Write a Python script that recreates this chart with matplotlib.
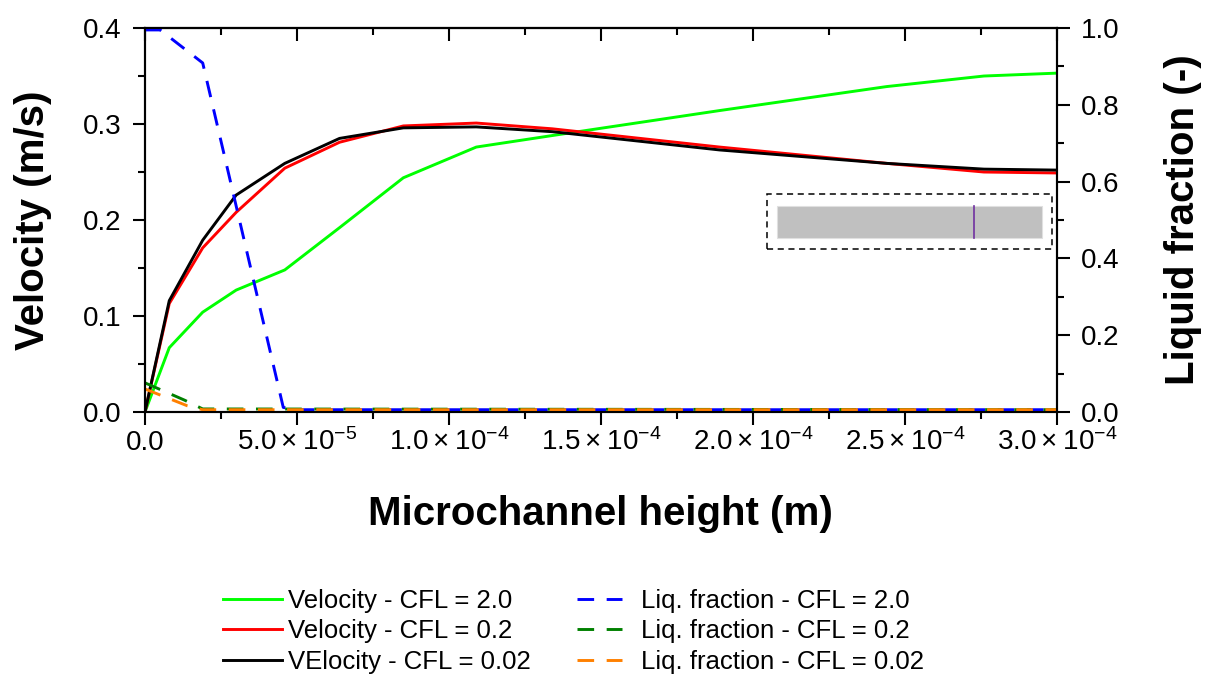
import numpy as np
import matplotlib
matplotlib.use("Agg")
import matplotlib.pyplot as plt
from matplotlib.patches import Rectangle

plt.rcParams["font.family"] = ["Liberation Sans", "DejaVu Sans"]
plt.rcParams["mathtext.fontset"] = "custom"
plt.rcParams["mathtext.rm"] = "Liberation Sans"
plt.rcParams["mathtext.default"] = "regular"

# mesh positions across the microchannel height (m)
height = [0, 0.08e-4, 0.19e-4, 0.30e-4, 0.46e-4, 0.64e-4, 0.85e-4,
          1.09e-4, 1.34e-4, 1.89e-4, 2.44e-4, 2.76e-4, 3.00e-4]

# velocity profiles (m/s)
vel_cfl_2 = [0, 0.067, 0.104, 0.127, 0.148, 0.192, 0.244,
             0.276, 0.288, 0.314, 0.339, 0.350, 0.353]
vel_cfl_02 = [0, 0.113, 0.171, 0.208, 0.254, 0.281, 0.298,
              0.301, 0.295, 0.276, 0.259, 0.250, 0.249]
vel_cfl_002 = [0, 0.116, 0.179, 0.226, 0.259, 0.285, 0.296,
               0.297, 0.292, 0.273, 0.259, 0.253, 0.252]

# liquid fraction profiles (-)
lf_cfl_2_x = [0, 0.05e-4, 0.19e-4, 0.455e-4, 0.50e-4, 3.00e-4]
lf_cfl_2 = [0.995, 0.995, 0.909, 0.012, 0.006, 0.006]
lf_cfl_02_x = [0, 0.13e-4, 0.19e-4, 3.00e-4]
lf_cfl_02 = [0.076, 0.031, 0.008, 0.006]
lf_cfl_002_x = [0, 0.14e-4, 0.19e-4, 3.00e-4]
lf_cfl_002 = [0.060, 0.016, 0.006, 0.006]

xticks = [0, 0.5e-4, 1.0e-4, 1.5e-4, 2.0e-4, 2.5e-4, 3.0e-4]
xticklabels = ["0.0", r"$5.0\times10^{-5}$", r"$1.0\times10^{-4}$",
               r"$1.5\times10^{-4}$", r"$2.0\times10^{-4}$",
               r"$2.5\times10^{-4}$", r"$3.0\times10^{-4}$"]
yticks = [0.0, 0.1, 0.2, 0.3, 0.4]
yticklabels = ["0.0", "0.1", "0.2", "0.3", "0.4"]
y2ticks = [0.0, 0.2, 0.4, 0.6, 0.8, 1.0]
y2ticklabels = ["0.0", "0.2", "0.4", "0.6", "0.8", "1.0"]

LW = 2.1
DASH = (5.7, 4.3)

fig = plt.figure(figsize=(12.14, 6.75), dpi=100)
ax = fig.add_axes([0.1194, 0.3896, 0.7512, 0.5689])

v1, = ax.plot(height, vel_cfl_2, color="#00ff00", lw=LW, label="Velocity - CFL = 2.0")
v2, = ax.plot(height, vel_cfl_02, color="#ff0000", lw=LW, label="Velocity - CFL = 0.2")
v3, = ax.plot(height, vel_cfl_002, color="black", lw=LW, label="VElocity - CFL = 0.02")

ax.set_xlim(0, 3e-4)
ax.set_ylim(0, 0.4)
ax.set_xticks(xticks)
ax.set_xticklabels(xticklabels)
ax.set_xticks(np.arange(0.25e-4, 3e-4, 0.5e-4), minor=True)
ax.set_yticks(yticks)
ax.set_yticklabels(yticklabels)
ax.set_yticks(np.arange(0.05, 0.4, 0.1), minor=True)
ax.tick_params(which="major", length=9, width=1.5, labelsize=20, direction="out")
ax.tick_params(which="minor", length=5, width=1.5, direction="out")
ax.tick_params(axis="y", pad=8)
ax.tick_params(axis="x", pad=18)
for lbl in ax.get_xticklabels():
    lbl.set_verticalalignment("baseline")

top = ax.secondary_xaxis("top")
top.set_xticks(xticks)
top.set_xticks(np.arange(0.25e-4, 3e-4, 0.5e-4), minor=True)
top.tick_params(which="major", length=9, width=1.5, direction="in", labeltop=False)
top.tick_params(which="minor", length=5, width=1.5, direction="in")
top.spines["top"].set_linewidth(1.5)

ax.set_xlabel("Microchannel height (m)", fontsize=29, fontweight="bold")
ax.xaxis.set_label_coords(0.5, -0.215)
ax.set_ylabel("Velocity (m/s)", fontsize=29, fontweight="bold")
ax.yaxis.set_label_coords(-0.102, 0.5)

ax2 = ax.twinx()
l1, = ax2.plot(lf_cfl_2_x, lf_cfl_2, color="#0000ff", lw=LW, dashes=DASH,
               label="Liq. fraction - CFL = 2.0")
l2, = ax2.plot(lf_cfl_02_x, lf_cfl_02, color="#008000", lw=LW, dashes=DASH,
               label="Liq. fraction - CFL = 0.2")
l3, = ax2.plot(lf_cfl_002_x, lf_cfl_002, color="#ff8000", lw=LW, dashes=DASH,
               label="Liq. fraction - CFL = 0.02")
ax2.set_ylim(0, 1.0)
ax2.set_yticks(y2ticks)
ax2.set_yticklabels(y2ticklabels)
ax2.set_yticks(np.arange(0.1, 1.0, 0.2), minor=True)
ax2.tick_params(which="major", length=9, width=1.5, labelsize=20, direction="out", pad=8)
ax2.tick_params(which="minor", length=5, width=1.5, direction="out")
ax2.set_ylabel("Liquid fraction (-)", fontsize=29, fontweight="bold")
ax2.yaxis.set_label_coords(1.117, 0.5)

for a in (ax, ax2):
    for sp in a.spines.values():
        sp.set_linewidth(1.5)

fig.legend(handles=[v1, v2, v3], loc="upper left", bbox_to_anchor=(0.184, 0.128),
           frameon=False, fontsize=18.5, handlelength=2.3, handletextpad=0.2,
           labelspacing=0.26, borderpad=0, borderaxespad=0)
fig.legend(handles=[l1, l2, l3], loc="upper left", bbox_to_anchor=(0.475, 0.128),
           frameon=False, fontsize=18.5, handlelength=1.75, handletextpad=0.75,
           labelspacing=0.26, borderpad=0, borderaxespad=0)

# channel schematic: gray channel with the interface marker, in a dashed frame
inset = fig.add_axes([0.6318, 0.6311, 0.2348, 0.0815])
inset.set_xlim(0, 1)
inset.set_ylim(0, 1)
inset.axis("off")
inset.add_patch(Rectangle((0, 0), 1, 1, fill=False, ec="black", lw=1.1,
                          ls=(0, (4, 3)), clip_on=False))
inset.add_patch(Rectangle((0.035, 0.2), 0.93, 0.58, fc="#c0c0c0", ec="#e0e0e0", lw=0.8))
inset.plot([0.726, 0.726], [0.2, 0.78], color="#7030a0", lw=1.2)

fig.savefig("out.png", dpi=100)
